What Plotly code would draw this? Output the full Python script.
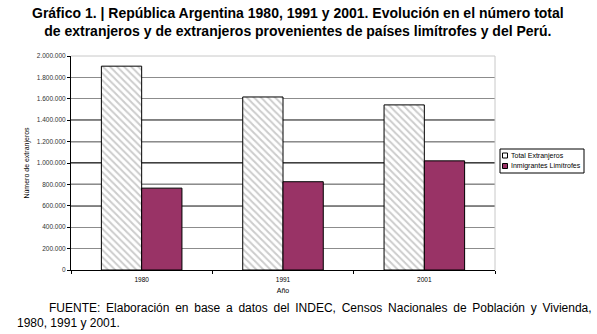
import plotly.graph_objects as go

years = ["1980", "1991", "2001"]
total_extranjeros = [1905000, 1617000, 1543000]
inmigrantes_limitrofes = [765000, 825000, 1020000]
y_ticks = [0, 200000, 400000, 600000, 800000, 1000000, 1200000, 1400000, 1600000, 1800000, 2000000]
dark_grid = [600000, 800000, 1000000, 1200000, 1400000]
legend_labels = ["Total Extranjeros", "Inmigrantes Limítrofes"]

FONT = "Liberation Sans, Arial, sans-serif"
MAROON = "#993366"

fig = go.Figure()
fig.add_trace(go.Bar(
    x=years, y=total_extranjeros, name=legend_labels[0],
    marker=dict(color="white", line=dict(color="black", width=1),
                pattern=dict(shape="\\", fgcolor="#9a9a9a", bgcolor="white", size=5, solidity=0.4)),
))
fig.add_trace(go.Bar(
    x=years, y=inmigrantes_limitrofes, name=legend_labels[1],
    marker=dict(color=MAROON, line=dict(color="black", width=1)),
))

for v in dark_grid:
    fig.add_shape(type="line", xref="paper", x0=0, x1=1, yref="y", y0=v, y1=v,
                  line=dict(color="black", width=1.3), layer="between")

fig.update_layout(
    width=597, height=334,
    margin=dict(l=71, r=102, t=56, b=64, autoexpand=False),
    paper_bgcolor="white", plot_bgcolor="white",
    barmode="group", bargap=0.43, bargroupgap=0,
    separators=",.",
    font=dict(family=FONT, color="black", size=7),
    showlegend=False,
    xaxis=dict(showline=True, linecolor="black", linewidth=1, mirror=False,
               ticks="outside", ticklen=3, tickcolor="black", tickson="boundaries",
               ticklabelstandoff=3,
               tickfont=dict(size=6.5), title=dict(text="Año", font=dict(size=7), standoff=6),
               showgrid=False),
    yaxis=dict(range=[0, 2000000], tickvals=y_ticks, tickformat=",d",
               showline=True, linecolor="black", linewidth=1,
               ticks="outside", ticklen=3, tickcolor="black",
               gridcolor="#8c8c8c", gridwidth=1, zeroline=False,
               tickfont=dict(size=6.5, color="#333333"),
               title=dict(text="Número de extranjeros", font=dict(size=7), standoff=6)),
)

# plot border (light gray top and right)
fig.add_shape(type="line", xref="paper", yref="paper", x0=0, x1=1, y0=1, y1=1,
              line=dict(color="#c8c8c8", width=1))
fig.add_shape(type="line", xref="paper", yref="paper", x0=1, x1=1, y0=0, y1=1,
              line=dict(color="#c8c8c8", width=1))

# custom compact legend (Excel style)
PW = 597 - 71 - 102
PH = 334 - 56 - 64
def px(xp):
    return (xp - 71) / PW
def py(yp):
    return (334 - 64 - yp) / PH

fig.add_shape(type="rect", xref="paper", yref="paper",
              x0=px(500), x1=px(584), y0=py(149), y1=py(173),
              line=dict(color="black", width=1), fillcolor="white")
sq_colors = ["white", MAROON]
for i, (lab, col) in enumerate(zip(legend_labels, sq_colors)):
    yc = 155.5 + i * 10.5
    fig.add_shape(type="rect", xref="paper", yref="paper",
                  x0=px(502.5), x1=px(507.5), y0=py(yc - 2.5), y1=py(yc + 2.5),
                  line=dict(color="black", width=1), fillcolor=col)
    fig.add_annotation(text=lab, xref="paper", yref="paper", x=px(508.5), y=py(yc),
                       xanchor="left", yanchor="middle", showarrow=False,
                       font=dict(size=7, family=FONT, color="black"))

fig.add_annotation(
    text="<b>Gráfico 1. | República Argentina 1980, 1991 y 2001. Evolución en el número total<br>de extranjeros y de extranjeros provenientes de países limítrofes y del Perú.</b>",
    xref="paper", yref="paper", x=px(298), y=py(22), xanchor="center", yanchor="middle",
    showarrow=False, font=dict(size=14, family=FONT, color="black"), align="center")

footer1 = "FUENTE: Elaboración en base a datos del INDEC, Censos Nacionales de Población y Vivienda,"
footer1 = footer1.replace(" ", " \u2009")
fig.add_annotation(
    text=footer1,
    xref="paper", yref="paper", x=px(47), y=py(308), xanchor="left", yanchor="middle",
    showarrow=False, font=dict(size=12, family=FONT, color="black"))
fig.add_annotation(
    text="1980, 1991 y 2001.",
    xref="paper", yref="paper", x=px(15), y=py(323), xanchor="left", yanchor="middle",
    showarrow=False, font=dict(size=12, family=FONT, color="black"))

fig.write_html("out.html")
